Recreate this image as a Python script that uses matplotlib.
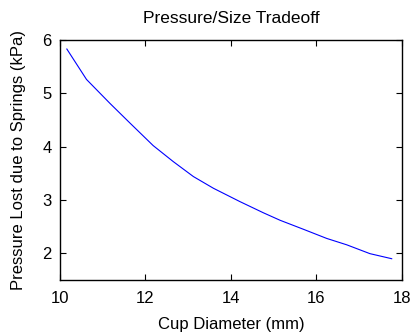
import matplotlib
matplotlib.use('Agg')
import matplotlib.pyplot as plt

# values
cup_diameter = [10.16, 10.62, 11.17, 11.64, 12.18, 12.65, 13.12, 13.59, 14.21, 14.76, 15.15, 15.7, 16.24, 16.71, 17.25, 17.76]
pressure_lost = [5.83, 5.26, 4.81, 4.44, 4.02, 3.72, 3.44, 3.22, 2.97, 2.76, 2.62, 2.45, 2.28, 2.16, 1.995, 1.90]

plt.rcParams['font.family'] = ['Liberation Sans', 'DejaVu Sans']
plt.rcParams['font.size'] = 12

fig = plt.figure(figsize=(4.11, 3.33), dpi=100)
ax = fig.add_axes([0.146, 0.159, 0.832, 0.721])
ax.plot(cup_diameter, pressure_lost, color='blue', linewidth=0.8)

ax.set_xlim(10, 18)
ax.set_ylim(1.5, 6)
ax.set_xticks([10, 12, 14, 16, 18])
ax.set_yticks([2, 3, 4, 5, 6])
ax.tick_params(direction='in', top=True, right=True, length=4, width=0.8,
               labelsize=12)
ax.tick_params(axis='x', pad=8)
ax.tick_params(axis='y', pad=6)
for s in ax.spines.values():
    s.set_linewidth(1.0)

ax.set_title('Pressure/Size Tradeoff', fontsize=12.5, pad=12)
ax.set_xlabel('Cup Diameter (mm)', fontsize=12, labelpad=8)
ax.set_ylabel('Pressure Lost due to Springs (kPa)', fontsize=12, labelpad=12)

fig.savefig('out.png', dpi=100)
